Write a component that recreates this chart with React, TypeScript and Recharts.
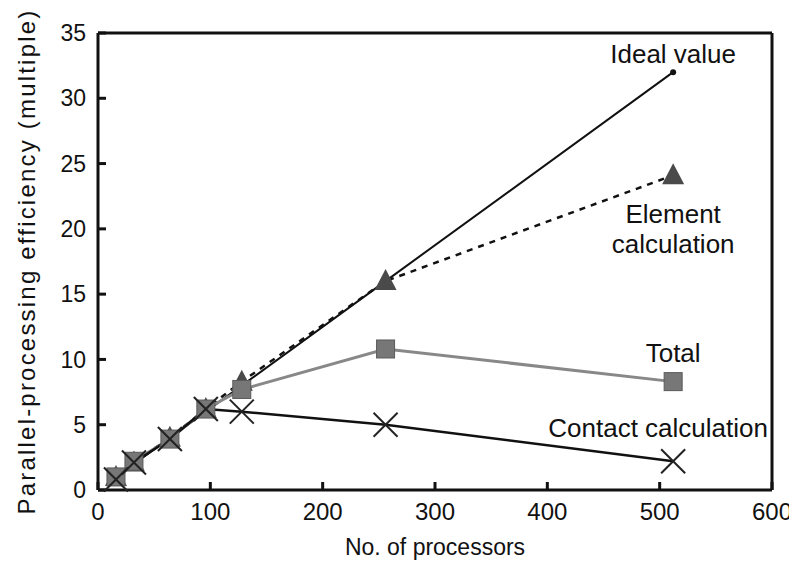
import React from 'react';
import {
  LineChart,
  Line,
  XAxis,
  YAxis,
  ReferenceLine,
  LabelList,
  Label,
} from 'recharts';

const processors = [16, 32, 64, 96, 128, 256, 512];
const idealValue = [1, 2, 4, 6, 8, 16, 32];
const elementCalc = [1, 2.1, 4, 6.2, 8.3, 16, 24.1];
const totalCalc = [1, 2.2, 3.9, 6.2, 7.7, 10.8, 8.3];
const contactCalc = [0.8, 2.1, 3.9, 6.2, 6.0, 5.0, 2.2];

const xTicks = [0, 100, 200, 300, 400, 500, 600];
const yTicks = [0, 5, 10, 15, 20, 25, 30, 35];

const data = processors.map((p, i) => ({
  p,
  ideal: idealValue[i],
  element: elementCalc[i],
  total: totalCalc[i],
  contact: contactCalc[i],
}));

const FONT = '"Liberation Sans", Arial, sans-serif';
const LAST = processors.length - 1;

const IdealDot = (props: any) => (
  <circle key={props.index} cx={props.cx} cy={props.cy} r={3} fill="#111" />
);

const TriangleDot = (props: any) => {
  const { cx, cy, index } = props;
  return (
    <polygon
      key={index}
      points={`${cx},${cy - 12} ${cx - 11},${cy + 9} ${cx + 11},${cy + 9}`}
      fill="#4a4a4a"
    />
  );
};

const SquareDot = (props: any) => {
  const { cx, cy, index } = props;
  return (
    <rect key={index} x={cx - 9} y={cy - 9} width={18} height={18} fill="#777" stroke="#5a5a5a" strokeWidth={1} />
  );
};

const CrossDot = (props: any) => {
  const { cx, cy, index } = props;
  const s = 12;
  return (
    <g key={index} stroke="#222" strokeWidth={2}>
      <line x1={cx - s} y1={cy - s} x2={cx + s} y2={cy + s} />
      <line x1={cx - s} y1={cy + s} x2={cx + s} y2={cy - s} />
    </g>
  );
};

// text beside the last point of a series
const endLabel = (lines: string[], dx: number, dy: number) => (props: any) => {
  const { x, y, index } = props;
  if (index !== LAST) return null;
  return (
    <text x={x + dx} y={y + dy} textAnchor="middle" fontFamily={FONT} fontSize={26} fill="#111">
      {lines.map((t, i) => (
        <tspan key={i} x={x + dx} dy={i === 0 ? 0 : 30}>
          {t}
        </tspan>
      ))}
    </text>
  );
};

export default function App() {
  return (
    <div style={{ position: 'relative', left: -8, top: -8, width: 797, height: 575, background: '#fff' }}>
      <LineChart width={797} height={575} data={data} margin={{ top: 33, right: 25, bottom: 0, left: 38 }}>
        <XAxis
          dataKey="p"
          type="number"
          domain={[0, 600]}
          ticks={xTicks}
          interval={0}
          height={85}
          stroke="#111"
          strokeWidth={3}
          tickSize={-8}
          tickMargin={21}
          tick={{ fill: '#111', fontSize: 24, fontFamily: FONT }}
        >
          <Label value="No. of processors" position="insideBottom" offset={20} fill="#111" fontSize={23} fontFamily={FONT} />
        </XAxis>
        <YAxis
          type="number"
          domain={[0, 35]}
          ticks={yTicks}
          interval={0}
          width={60}
          stroke="#111"
          strokeWidth={3}
          tickSize={-8}
          tickMargin={20}
          tick={{ fill: '#111', fontSize: 23, fontFamily: FONT }}
        >
          <Label
            value="Parallel-processing efficiency (multiple)"
            angle={-90}
            position="insideLeft"
            offset={-12}
            style={{ textAnchor: 'middle', letterSpacing: 2.2 }}
            fill="#111"
            fontSize={24}
            fontFamily={FONT}
          />
        </YAxis>
        <ReferenceLine y={35} stroke="#111" strokeWidth={3} />
        <ReferenceLine x={600} stroke="#111" strokeWidth={3} />
        <Line
          dataKey="ideal"
          type="linear"
          stroke="#111"
          strokeWidth={2}
          dot={IdealDot}
          isAnimationActive={false}
        >
          <LabelList dataKey="ideal" content={endLabel(['Ideal value'], 0, -9)} />
        </Line>
        <Line
          dataKey="element"
          type="linear"
          stroke="#111"
          strokeWidth={2.5}
          strokeDasharray="6 6"
          dot={TriangleDot}
          isAnimationActive={false}
        >
          <LabelList dataKey="element" content={endLabel(['Element', 'calculation'], 0, 48)} />
        </Line>
        <Line
          dataKey="total"
          type="linear"
          stroke="#888"
          strokeWidth={3}
          dot={SquareDot}
          isAnimationActive={false}
        >
          <LabelList dataKey="total" content={endLabel(['Total'], 0, -20)} />
        </Line>
        <Line
          dataKey="contact"
          type="linear"
          stroke="#111"
          strokeWidth={2.5}
          dot={CrossDot}
          isAnimationActive={false}
        >
          <LabelList dataKey="contact" content={endLabel(['Contact calculation'], -15, -24)} />
        </Line>
      </LineChart>
    </div>
  );
}
